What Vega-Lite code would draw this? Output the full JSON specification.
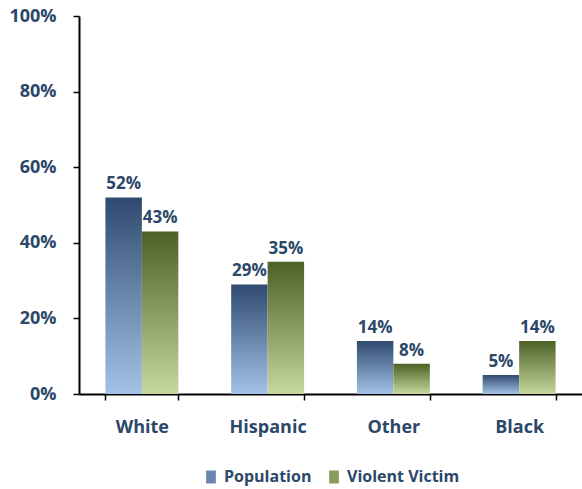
{
  "$schema": "https://vega.github.io/schema/vega-lite/v6.json",
  "width": 503,
  "height": 378,
  "autosize": {"type": "none"},
  "padding": {"left": 79, "top": 16, "right": 0, "bottom": 95},
  "background": "white",
  "config": {
    "view": {"stroke": null},
    "font": "Open Sans"
  },
  "data": {
    "values": [
      {"race": "White", "series": "Population", "share": 0.52},
      {"race": "White", "series": "Violent Victim", "share": 0.43},
      {"race": "Hispanic", "series": "Population", "share": 0.29},
      {"race": "Hispanic", "series": "Violent Victim", "share": 0.35},
      {"race": "Other", "series": "Population", "share": 0.14},
      {"race": "Other", "series": "Violent Victim", "share": 0.08},
      {"race": "Black", "series": "Population", "share": 0.05},
      {"race": "Black", "series": "Violent Victim", "share": 0.14}
    ]
  },
  "encoding": {
    "x": {
      "field": "race",
      "type": "nominal",
      "sort": ["White", "Hispanic", "Other", "Black"],
      "scale": {"paddingInner": 0.42, "paddingOuter": 0.21},
      "axis": {
        "title": null,
        "labelAngle": 0,
        "labelFont": "Open Sans",
        "labelFontWeight": "bold",
        "labelFontSize": 18,
        "labelColor": "#2B4769",
        "labelPadding": 18,
        "domainColor": "black",
        "domainWidth": 2,
        "tickColor": "black",
        "tickWidth": 1.5,
        "tickSize": 6,
        "tickBand": "extent"
      }
    },
    "xOffset": {
      "field": "series",
      "type": "nominal",
      "sort": ["Population", "Violent Victim"],
      "scale": {"domain": ["Population", "Violent Victim"], "paddingInner": 0, "paddingOuter": 0}
    },
    "y": {
      "field": "share",
      "type": "quantitative",
      "scale": {"domain": [0, 1], "nice": false},
      "axis": {
        "title": null,
        "values": [0, 0.2, 0.4, 0.6, 0.8, 1],
        "format": ".0%",
        "grid": false,
        "labelFont": "Open Sans",
        "labelFontWeight": "bold",
        "labelFontSize": 18,
        "labelColor": "#2B4769",
        "labelPadding": 17,
        "domainColor": "black",
        "domainWidth": 2,
        "tickColor": "black",
        "tickWidth": 1.5,
        "tickSize": 6
      }
    }
  },
  "layer": [
    {
      "transform": [{"filter": "datum.series === 'Population'"}],
      "mark": {
        "type": "bar",
        "fill": {
          "gradient": "linear", "x1": 0, "y1": 0, "x2": 0, "y2": 1,
          "stops": [{"offset": 0, "color": "#2F4A6E"}, {"offset": 1, "color": "#A4C2E8"}]
        }
      }
    },
    {
      "transform": [{"filter": "datum.series === 'Violent Victim'"}],
      "mark": {
        "type": "bar",
        "fill": {
          "gradient": "linear", "x1": 0, "y1": 0, "x2": 0, "y2": 1,
          "stops": [{"offset": 0, "color": "#4C6126"}, {"offset": 1, "color": "#C6D89C"}]
        }
      }
    },
    {
      "mark": {"type": "bar", "opacity": 0},
      "encoding": {
        "color": {
          "field": "series",
          "type": "nominal",
          "scale": {
            "domain": ["Population", "Violent Victim"],
            "range": ["#6A87AE", "#899C5E"]
          },
          "legend": {
            "title": null,
            "orient": "none",
            "direction": "horizontal",
            "legendX": 124,
            "legendY": 453,
            "symbolType": "M-0.75,-1H0.75V1H-0.75Z",
            "symbolSize": 169,
            "symbolStrokeWidth": 0,
            "symbolOpacity": 1,
            "labelFont": "Open Sans",
            "labelFontWeight": "bold",
            "labelFontSize": 16,
            "labelColor": "#2B4769",
            "labelOffset": 5,
            "columnPadding": 14
          }
        }
      }
    },
    {
      "mark": {
        "type": "text",
        "baseline": "alphabetic",
        "dy": -8,
        "font": "Open Sans",
        "fontWeight": "bold",
        "fontSize": 17,
        "color": "#2B4769"
      },
      "encoding": {
        "text": {"field": "share", "type": "quantitative", "format": ".0%"}
      }
    }
  ]
}
